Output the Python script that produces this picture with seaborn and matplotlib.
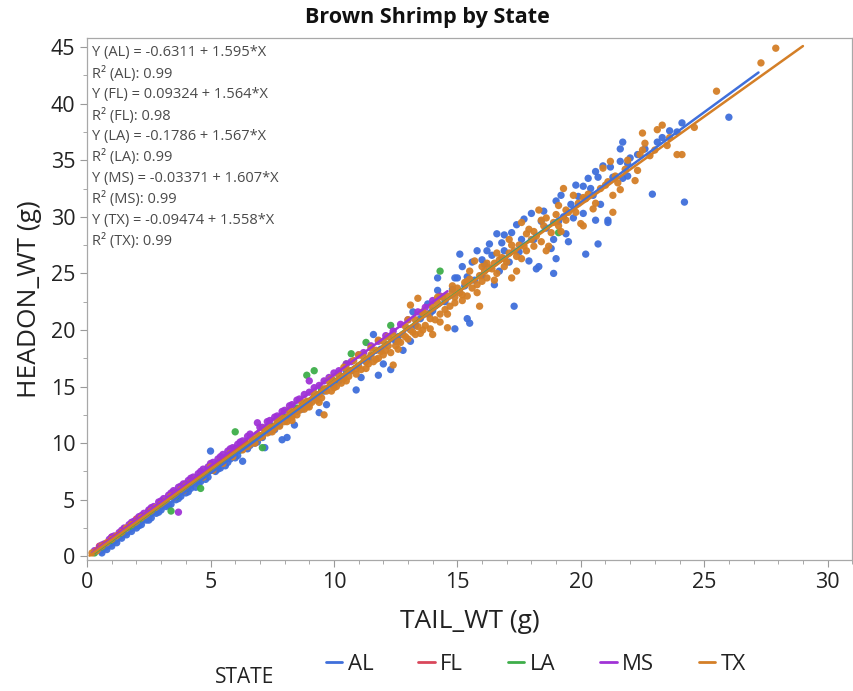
import numpy as np
import pandas as pd
import matplotlib
matplotlib.use('Agg')
import matplotlib.pyplot as plt
from matplotlib.lines import Line2D
from matplotlib.ticker import MultipleLocator
import seaborn as sns

# ---- data ----
states = ['AL', 'FL', 'LA', 'MS', 'TX']
colors = ['#3F6FDB', '#D9475B', '#3EAE4A', '#A033D6', '#D47F27']

# fitted lines as printed in the chart (intercept, slope) and x span of each line
intercepts = [-0.6311, 0.09324, -0.1786, -0.03371, -0.09474]
slopes = [1.595, 1.564, 1.567, 1.607, 1.558]
r2 = [0.99, 0.98, 0.99, 0.99, 0.99]
line_start = [0.55, 0.3, 0.3, 0.2, 0.1]
line_end = [27.2, 6.5, 19.1, 14.6, 29.0]

al_x = [0.6, 0.8, 1.0, 1.2, 1.4, 1.6, 1.8, 2.0, 2.2, 2.4, 2.6, 2.8, 3.0, 3.2, 3.4, 3.6, 3.8, 4.0,
        4.2, 4.4, 4.6, 4.8, 5.0, 5.2, 5.4, 5.6, 5.8, 6.0, 6.2, 6.3, 6.6, 6.9, 7.2, 7.4, 7.6, 7.9,
        8.1, 8.3, 8.4, 8.7, 9.0, 9.2, 9.4, 9.7, 9.9, 10.2, 10.5, 10.9, 11.1, 11.4, 11.6, 11.8,
        12.0, 12.3, 12.5, 12.8, 13.1, 13.2, 13.5, 13.8, 14.0, 14.2, 14.2, 14.5, 14.8, 14.9, 14.9,
        15.0, 15.1, 15.2, 15.4, 15.4, 15.5, 15.8, 16.0, 16.1, 16.3, 16.5, 16.6, 16.7, 16.8, 17.2,
        17.3, 17.5, 17.9, 18.0, 18.2, 18.3, 18.6, 18.8, 18.9, 18.9, 19.0, 19.2, 19.4, 19.5, 19.6,
        19.7, 20.1, 20.1, 20.2, 20.4, 20.6, 20.6, 20.7, 20.7, 20.8, 21.1, 21.1, 21.2, 21.6, 21.6,
        21.7, 21.7, 21.9, 22.0, 22.9, 23.1, 23.3, 23.9, 24.1, 24.2, 26.0,
        2.1, 2.5, 2.9, 3.3, 3.7, 4.1, 4.5, 4.9, 5.3, 5.7, 6.1, 6.5, 6.8, 7.1, 7.5, 7.8, 8.2, 8.5,
        8.9, 9.3, 9.6, 10.0, 10.4, 10.7, 11.3, 11.9, 12.6, 13.3, 13.9,
        15.6, 16.2, 16.9, 17.4, 17.7, 18.5, 19.0, 19.8, 20.3, 20.9,
        15.3, 15.7, 16.0, 16.4, 16.9, 17.1, 17.6, 18.1, 18.4, 19.1, 19.3, 19.9, 20.5, 21.3, 21.9,
        22.3, 22.6, 23.6]
al_y = [0.3, 0.6, 0.9, 1.2, 1.6, 1.9, 2.2, 2.5, 2.8, 3.2, 3.4, 3.8, 4.1, 4.4, 4.6, 5.0, 5.3, 5.6,
        6.0, 6.1, 6.6, 6.8, 9.3, 7.5, 7.8, 8.0, 8.6, 8.7, 9.4, 8.4, 9.8, 10.1, 9.6, 11.0, 11.2, 10.3,
        10.5, 12.4, 11.6, 13.0, 13.5, 14.0, 12.7, 13.4, 15.2, 15.5, 16.4, 14.7, 15.8, 17.4, 19.6, 16.0,
        17.0, 16.5, 19.0, 18.2, 19.0, 21.6, 21.0, 22.3, 21.7, 24.6, 23.5, 22.5, 23.6, 24.6, 20.1,
        24.6, 26.7, 25.6, 24.7, 21.0, 20.6, 27.0, 24.8, 25.8, 27.6, 24.0, 28.5, 25.2, 27.7, 28.6,
        22.1, 26.9, 26.1, 30.3, 25.4, 25.6, 29.0, 27.2, 28.0, 25.0, 26.3, 31.9, 28.5, 27.8, 31.1,
        29.9, 32.7, 30.3, 26.7, 32.5, 34.0, 29.7, 33.5, 27.6, 31.1, 29.7, 29.5, 34.4, 36.0, 34.9,
        36.6, 33.4, 34.7, 35.2, 32.0, 36.6, 37.0, 37.5, 38.3, 31.3, 38.8,
        2.7, 3.2, 3.9, 4.5, 5.1, 5.7, 6.4, 7.0, 7.7, 8.3, 8.9, 9.5, 10.0, 10.5, 11.2, 11.6, 12.3, 12.8,
        13.4, 14.1, 14.6, 15.1, 15.9, 16.4, 17.2, 18.3, 19.4, 20.4, 21.5,
        26.0, 27.0, 28.4, 29.3, 29.8, 30.5, 31.4, 32.8, 33.4, 34.5,
        23.9, 24.4, 26.2, 26.6, 27.0, 26.0, 28.0, 28.0, 29.6, 29.6, 30.0, 31.8, 31.9, 33.5, 33.6,
        35.5, 36.0, 37.6]

fl_x = [0.5, 1.0, 1.5, 2.0, 2.5, 3.0, 3.5, 4.0, 5.0, 6.0]
fl_y = [0.9, 1.7, 2.4, 3.3, 4.0, 4.8, 5.6, 6.4, 7.9, 9.5]

la_x = [0.3, 0.6, 1.0, 1.4, 1.8, 2.2, 2.6, 3.0, 3.4, 3.6, 4.0, 4.6, 4.5, 5.0, 5.5, 6.0, 6.2, 6.8,
        7.1, 7.5, 8.0, 8.5, 8.9, 9.2, 9.5, 10.0, 10.5, 10.7, 11.3, 12.3, 14.3, 19.1]
la_y = [0.3, 0.8, 1.4, 2.0, 2.6, 3.3, 3.9, 4.5, 4.0, 5.3, 6.0, 6.0, 6.8, 7.6, 8.4, 11.0, 9.4, 10.3,
        9.6, 11.5, 12.3, 13.1, 16.0, 16.4, 14.7, 15.5, 17.0, 17.9, 18.9, 20.4, 25.2, 28.6]

ms_x = [0.3, 0.5, 0.7, 0.9, 1.1, 1.3, 1.5, 1.7, 1.9, 2.1, 2.3, 2.5, 2.7, 2.9, 3.1, 3.3, 3.5, 3.7,
        3.7, 3.9, 4.1, 4.3, 4.5, 4.7, 4.9, 5.1, 5.3, 5.5, 5.7, 5.9, 6.1, 6.3, 6.5, 6.9, 7.1, 7.4,
        7.7, 8.0, 8.3, 8.6, 9.0, 9.0, 9.4, 9.8, 10.2, 10.7, 11.2, 11.8, 12.4, 13.0, 13.7, 14.3,
        0.6, 1.0, 1.4, 1.8, 2.2, 2.6, 3.0, 3.4, 3.8, 4.2, 4.6, 5.0, 5.4, 5.8, 6.2, 6.6, 7.0, 7.3,
        7.6, 7.9, 8.2, 8.5, 8.8, 9.2, 9.6, 10.0, 10.5, 11.0, 11.5, 12.1, 12.7, 13.4, 14.0]
ms_y = [0.5, 0.8, 1.1, 1.5, 1.8, 2.1, 2.5, 2.8, 3.1, 3.5, 3.8, 4.1, 4.4, 4.8, 5.1, 5.4, 5.8, 3.9,
        6.1, 6.4, 6.7, 7.0, 7.3, 7.7, 7.9, 8.3, 8.6, 9.0, 9.3, 9.6, 9.9, 10.2, 10.6, 11.8, 11.4, 12.0,
        12.4, 12.9, 13.4, 13.9, 15.5, 14.5, 15.1, 15.8, 16.4, 17.2, 18.0, 19.0, 19.9, 20.9, 22.0, 23.0,
        1.0, 1.7, 2.3, 3.0, 3.6, 4.3, 4.9, 5.6, 6.2, 6.9, 7.5, 8.2, 8.8, 9.5, 10.1, 10.8, 11.4, 11.9,
        12.3, 12.8, 13.3, 13.8, 14.3, 14.9, 15.5, 16.2, 17.0, 17.8, 18.6, 19.5, 20.5, 21.6, 22.6]

tx_x = [0.2, 0.4, 0.6, 0.8, 1.0, 1.2, 1.4, 1.6, 1.8, 2.0, 2.2, 2.4, 2.6, 2.8, 3.0, 3.2, 3.4, 3.6,
        3.8, 4.0, 4.2, 4.4, 4.6, 4.8, 5.0, 5.2, 5.4, 5.6, 5.8, 6.0, 6.2, 6.4, 6.5, 6.7, 6.9, 7.0,
        7.2, 7.4, 7.5, 7.7, 7.9, 8.0, 8.2, 8.4, 8.5, 8.7, 8.9, 9.0, 9.2, 9.4, 9.6, 9.6, 9.8, 9.9,
        10.0, 10.2, 10.4, 10.5, 10.7, 10.8, 11.0, 11.2, 11.3, 11.5, 11.5, 11.7, 11.9, 12.0, 12.2,
        12.4, 12.4, 12.6, 12.8, 12.9, 13.1, 13.1, 13.3, 13.4, 13.5, 13.6, 13.8, 14.0, 14.0, 14.2,
        14.3, 14.4, 14.6, 14.6, 14.8, 15.0, 15.2, 15.3, 15.5, 15.6, 15.7, 15.9, 15.9, 16.1, 16.3,
        16.5, 16.7, 16.9, 17.1, 17.2, 17.4, 17.6, 17.6, 17.8, 17.8, 18.1, 18.3, 18.4, 18.6, 18.7,
        19.1, 19.1, 19.2, 19.3, 19.5, 19.7, 20.0, 20.1, 20.1, 20.6, 20.9, 21.1, 21.2, 21.3, 21.3,
        21.6, 22.2, 22.3, 22.5, 22.5, 22.6, 23.1, 23.3, 23.9, 24.1, 25.5, 27.3, 27.9,
        3.1, 3.5, 3.9, 4.3, 4.7, 5.1, 5.5, 5.9, 6.3, 6.6, 6.8, 7.1, 7.3, 7.6, 7.8, 8.1, 8.3, 8.6,
        8.8, 9.1, 9.3, 9.5, 9.7, 10.1, 10.3, 10.6, 10.9, 11.1, 11.4, 11.6, 11.8, 12.1, 12.3, 12.5,
        12.7, 13.0, 13.2, 13.4, 13.7, 13.9, 14.1, 14.5, 14.7, 14.9, 15.1, 15.4, 15.8, 16.0, 16.2,
        16.4, 16.6, 16.8, 17.0, 17.3, 17.5, 17.7, 18.0, 18.2, 18.5, 18.9,
        10.4, 11.0, 11.8, 12.2, 13.0, 13.6, 14.2, 14.8, 15.4, 16.0, 16.6, 17.2, 18.6, 19.4, 19.9,
        20.3, 20.8, 21.4, 21.8, 22.8, 23.5, 24.6,
        8.3, 8.9, 9.4, 9.9, 10.5, 10.9, 11.3, 11.7, 12.0, 12.6, 12.9, 13.3, 13.6, 13.9, 14.3, 14.6,
        14.9, 15.2, 15.5, 15.8, 16.2, 16.5, 16.9, 17.1, 17.4, 17.9, 18.1, 18.4, 18.8, 19.0, 19.4,
        19.8, 20.2, 20.5, 21.0, 21.5, 21.9, 22.4, 23.0, 23.6]
tx_y = [0.3, 0.5, 0.9, 1.2, 1.5, 1.8, 2.1, 2.5, 2.8, 3.0, 3.4, 3.6, 4.0, 4.3, 4.6, 4.9, 5.3, 5.5,
        5.9, 6.2, 6.5, 6.8, 7.1, 7.4, 7.9, 8.0, 8.4, 8.6, 9.1, 9.3, 9.6, 10.0, 9.7, 10.4, 10.8, 10.5,
        11.3, 11.4, 11.0, 12.0, 12.2, 11.9, 12.9, 12.8, 12.5, 13.6, 13.7, 13.2, 14.4, 14.3, 12.5,
        14.8, 15.5, 15.7, 14.9, 16.0, 15.7, 16.6, 16.4, 17.3, 16.8, 17.6, 17.2, 17.8, 18.4, 18.2,
        18.1, 19.0, 18.6, 19.5, 16.9, 19.0, 19.6, 20.3, 22.2, 20.0, 20.9, 22.8, 19.7, 21.5, 21.4,
        19.6, 22.0, 22.4, 20.7, 22.9, 20.2, 23.0, 23.4, 23.7, 23.1, 24.2, 25.2, 23.7, 26.1, 22.1,
        24.8, 25.2, 25.5, 25.9, 26.2, 26.3, 28.0, 24.6, 25.2, 29.5, 26.3, 27.0, 28.5, 28.7, 30.6,
        27.8, 27.0, 27.4, 31.0, 29.2, 28.7, 32.5, 30.4, 31.9, 29.4, 31.7, 29.2, 31.2, 34.3, 33.1,
        34.9, 31.9, 30.4, 32.4, 33.2, 34.1, 37.4, 35.9, 36.5, 37.7, 38.1, 35.5, 35.5, 41.1, 43.6, 44.9,
        4.7, 5.2, 5.8, 6.5, 7.0, 7.6, 8.2, 8.8, 9.4, 9.9, 10.0, 10.6, 10.9, 11.3, 11.5, 11.9, 12.3, 12.9,
        13.0, 13.6, 13.8, 14.0, 14.6, 15.0, 15.3, 15.9, 16.1, 16.5, 17.0, 17.2, 17.5, 18.2, 18.0, 18.6,
        18.9, 19.2, 19.8, 20.3, 20.4, 21.0, 20.9, 21.8, 22.1, 22.4, 23.3, 23.0, 24.0, 24.3, 24.6,
        25.4, 25.0, 26.4, 26.0, 27.0, 27.5, 27.4, 28.0, 28.3, 29.2, 29.5,
        16.7, 17.8, 19.1, 19.4, 20.9, 21.6, 22.9, 23.9, 24.3, 25.6, 26.8, 27.5, 29.9, 30.6, 31.2,
        32.0, 32.5, 33.6, 34.2, 35.4, 36.3, 37.9,
        12.0, 13.2, 13.6, 14.6, 15.5, 16.6, 16.6, 17.4, 17.8, 18.3, 19.4, 19.6, 20.0, 20.1, 21.4, 21.4,
        22.9, 22.6, 24.5, 23.3, 25.9, 24.4, 25.6, 26.8, 26.5, 28.9, 27.4, 29.7, 28.6, 30.2, 29.7,
        30.4, 31.6, 30.7, 32.8, 33.0, 35.0, 35.5, 35.9, 37.0]

xs = [al_x, fl_x, la_x, ms_x, tx_x]
ys = [al_y, fl_y, la_y, ms_y, tx_y]

points = pd.concat([pd.DataFrame({'TAIL_WT': x, 'HEADON_WT': y, 'STATE': s})
                    for s, x, y in zip(states, xs, ys)], ignore_index=True)

fits = pd.concat([pd.DataFrame({'TAIL_WT': [x0, x1],
                                'HEADON_WT': [b + m * x0, b + m * x1],
                                'STATE': s})
                  for s, b, m, x0, x1 in zip(states, intercepts, slopes, line_start, line_end)],
                 ignore_index=True)

palette = dict(zip(states, colors))

sns.set_theme(style='white')
plt.rcParams['font.family'] = ['Open Sans', 'DejaVu Sans']

fig = plt.figure(figsize=(8.54, 6.91), dpi=100)
ax = fig.add_axes([0.102, 0.19, 0.896, 0.755])

sns.scatterplot(data=points, x='TAIL_WT', y='HEADON_WT', hue='STATE', palette=palette,
                hue_order=states, s=28, edgecolor='none', alpha=0.95, legend=False, ax=ax)
sns.lineplot(data=fits, x='TAIL_WT', y='HEADON_WT', hue='STATE', palette=palette,
             hue_order=states, linewidth=1.8, legend=False, ax=ax, estimator=None, sort=False)

ax.set_xlim(0, 31.0)
ax.set_ylim(-0.3, 45.8)
ax.xaxis.set_major_locator(MultipleLocator(5))
ax.xaxis.set_minor_locator(MultipleLocator(1))
ax.yaxis.set_major_locator(MultipleLocator(5))
ax.yaxis.set_minor_locator(MultipleLocator(2.5))
ax.tick_params(which='major', direction='out', length=5, width=0.8, color='#9A9A9A',
               labelsize=15.5, labelcolor='#222222', bottom=True, left=True)
ax.tick_params(which='minor', direction='out', length=3, width=0.6, color='#9A9A9A',
               bottom=True, left=True)
for sp in ax.spines.values():
    sp.set_color('#A8A8A8')
    sp.set_linewidth(0.9)

ax.set_xlabel('TAIL_WT (g)', fontsize=19, color='#222222', labelpad=12)
ax.set_ylabel('HEADON_WT (g)', fontsize=19, color='#222222', labelpad=6)
fig.text(0.5, 0.974, 'Brown Shrimp by State', fontsize=15.5, fontweight='bold',
         color='#111111', ha='center', va='center')

# fit equations, upper left
ann = []
for s, b, m, r in zip(states, intercepts, slopes, r2):
    ann.append(f'Y ({s}) = {b:g} + {m:g}*X')
    ann.append(f'R² ({s}): {r:.2f}')
for i, t in enumerate(ann):
    ax.text(0.007, 0.972 - i * 0.0402, t, transform=ax.transAxes, fontsize=10.5,
            color='#4A4A4A', va='center', ha='left')

# legend at the bottom
handles = [Line2D([0], [0], color=c, lw=2) for c in colors]
fig.text(0.252, 0.004, 'STATE', fontsize=15, color='#222222', ha='left', va='bottom')
fig.legend(handles, states, loc='center left', bbox_to_anchor=(0.358, 0.039), ncol=5,
           frameon=False, fontsize=16, handlelength=0.75, handletextpad=0.25,
           columnspacing=2.0, labelcolor='#222222')

fig.savefig('out.png', dpi=100)
